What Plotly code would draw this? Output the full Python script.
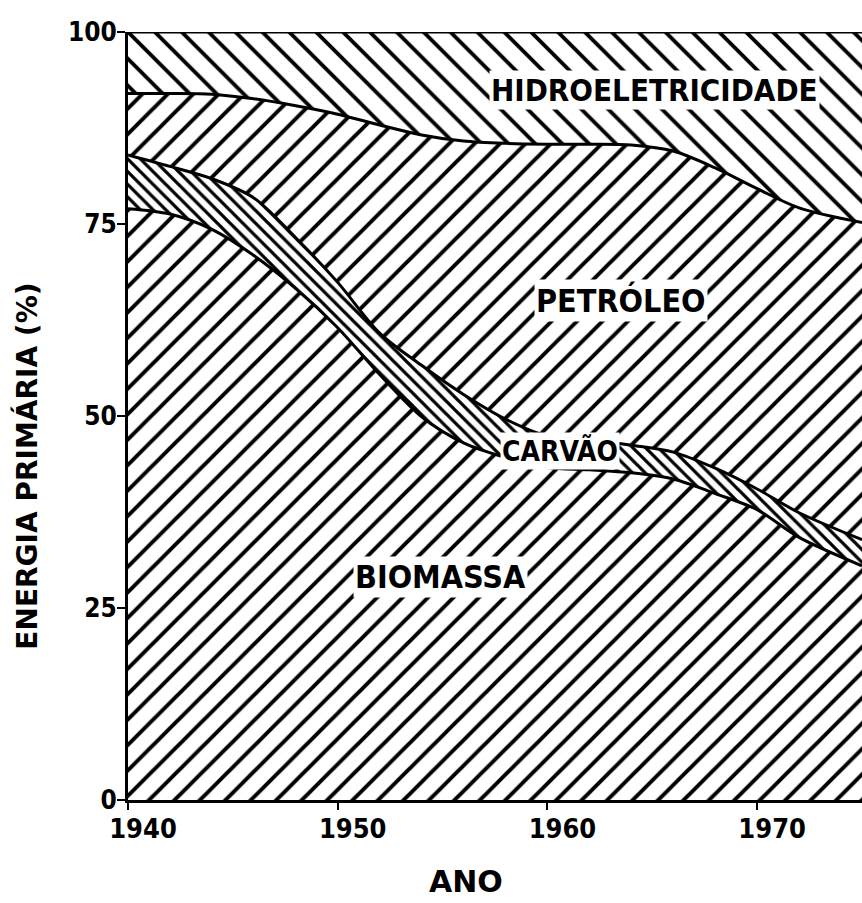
import plotly.graph_objects as go

# ---- data (shares of primary energy, %) ----
years = [1940, 1942, 1944, 1946, 1948, 1950, 1952, 1954, 1956, 1958,
         1960, 1962, 1964, 1966, 1968, 1970, 1972, 1975]
biomassa = [77.0, 76.3, 74.3, 70.9, 66.6, 61.5, 55.4, 49.9, 46.5, 44.6,
            43.3, 43.0, 42.6, 41.8, 39.9, 37.8, 34.2, 30.5]
carvao = [7.0, 6.2, 6.6, 7.5, 6.6, 5.9, 5.4, 6.7, 6.3, 5.0,
          4.1, 3.9, 3.6, 3.5, 3.3, 2.7, 3.2, 3.4]
petroleo = [8.0, 9.5, 11.0, 12.9, 17.2, 21.9, 27.1, 30.0, 33.0, 35.9,
            38.0, 38.5, 39.1, 39.2, 39.1, 39.1, 39.7, 41.3]
hidro = [8.0, 8.0, 8.1, 8.7, 9.6, 10.7, 12.1, 13.4, 14.2, 14.5,
         14.6, 14.6, 14.7, 15.5, 17.7, 20.4, 22.9, 24.8]

x_ticks = [1940, 1950, 1960, 1970]
y_ticks = [0, 25, 50, 75, 100]

labels = ["BIOMASSA", "CARVÃO", "PETRÓLEO", "HIDROELETRICIDADE"]
label_pos_x = [1954.9, 1960.6, 1963.5, 1965.1]
label_pos_y = [29.0, 45.5, 65.0, 92.4]

# ---- styles ----
patterns = [
    dict(shape="/", size=18, solidity=0.22),
    dict(shape="\\", size=9, solidity=0.36),
    dict(shape="/", size=18, solidity=0.22),
    dict(shape="\\", size=19, solidity=0.2),
]
label_sizes = [32, 28, 32, 31]

COND = "DejaVu Sans Condensed, DejaVu Sans, sans-serif"

fig = go.Figure()
for name, vals, pat in zip(labels, [biomassa, carvao, petroleo, hidro], patterns):
    fig.add_trace(go.Scatter(
        x=years, y=vals, name=name, stackgroup="one", mode="lines",
        line=dict(color="black", width=3, shape="spline", smoothing=0.9),
        fillcolor="white",
        fillpattern=dict(fgcolor="black", bgcolor="white", fgopacity=1, **pat),
        hoverinfo="skip",
    ))

for text, xx, yy, sz in zip(labels, label_pos_x, label_pos_y, label_sizes):
    fig.add_annotation(x=xx, y=yy, text="<b>%s</b>" % text, showarrow=False,
                       font=dict(family=COND, size=sz, color="black"),
                       bgcolor="white", borderpad=1)

fig.add_annotation(xref="paper", yref="paper", x=-0.138, y=0.435,
                   text="<b>ENERGIA PRIMÁRIA (%)</b>", textangle=-90, showarrow=False,
                   xanchor="center", yanchor="middle",
                   font=dict(family="DejaVu Sans", size=28, color="black"))
fig.add_annotation(xref="paper", yref="paper", x=0.46, y=-0.106,
                   text="<b>ANO</b>", showarrow=False, xanchor="center", yanchor="middle",
                   font=dict(family="DejaVu Sans", size=30, color="black"))

fig.update_layout(
    width=862, height=903,
    margin=dict(l=128, r=0, t=32, b=103, autoexpand=False),
    paper_bgcolor="white", plot_bgcolor="white",
    showlegend=False,
)
fig.update_xaxes(
    range=[1940, 1975], tickvals=x_ticks, ticktext=["<b>%d</b>" % v for v in x_ticks],
    showgrid=False, zeroline=False, showline=True, linecolor="black", linewidth=3,
    ticks="outside", ticklen=7, tickwidth=2, tickcolor="black",
    ticklabelshift=15, ticklabelstandoff=-4, automargin=False,
    tickfont=dict(family=COND, size=27, color="black"),
)
fig.update_yaxes(
    range=[0, 100], tickvals=y_ticks, ticktext=["<b>%d</b>" % v for v in y_ticks],
    showgrid=False, zeroline=False, showline=True, linecolor="black", linewidth=3,
    ticks="outside", ticklen=8, tickwidth=2, tickcolor="black",
    ticklabelstandoff=-5, automargin=False,
    tickfont=dict(family=COND, size=26, color="black"),
)

fig.write_html("out.html",
               config={"displayModeBar": False, "staticPlot": True},
               post_script="document.body.style.margin='0';document.body.style.overflow='hidden';")
